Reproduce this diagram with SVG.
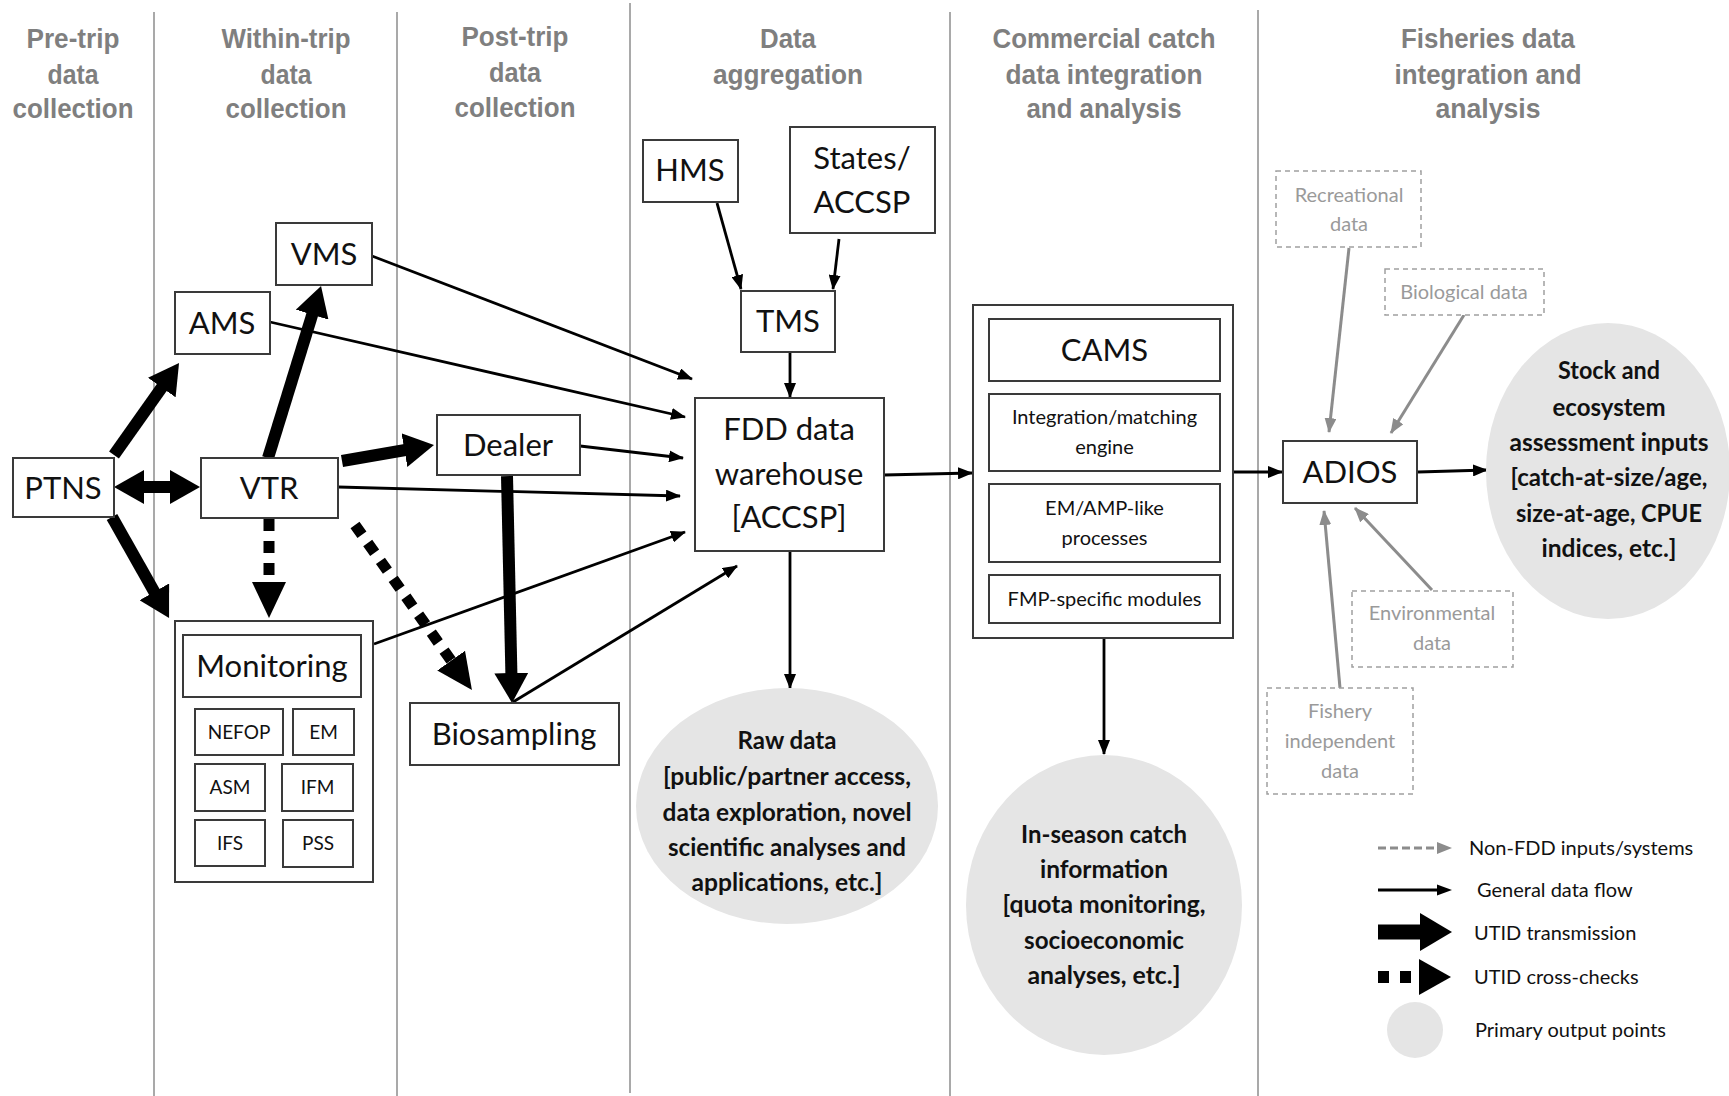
<svg xmlns="http://www.w3.org/2000/svg" width="1729" height="1096" viewBox="0 0 1729 1096">
<style>
.lane{stroke:#8c8c8c;stroke-width:1.5}
.hdr{font-family:"Liberation Sans",Arial,sans-serif;font-weight:bold;font-size:27px;fill:#7f7f7f;text-anchor:middle}
.box{fill:#fff;stroke:#3a3a3a;stroke-width:2}
.lbl{font-family:Lato,"Liberation Sans",sans-serif;font-size:31px;fill:#111;text-anchor:middle}
.sm{font-size:19px}
.mid{font-size:20px}
.gbox{fill:#fff;stroke:#a0a0a0;stroke-width:1.5;stroke-dasharray:5 4}
.glbl{fill:#9a9a9a;font-size:20px}
.out{fill:#e5e5e5}
.olbl{font-family:Lato,"Liberation Sans",sans-serif;font-weight:bold;font-size:25px;fill:#111;text-anchor:middle}
.leg{font-family:Lato,"Liberation Sans",sans-serif;font-size:20px;fill:#111}
.thin{stroke:#000;stroke-width:2.8;fill:none;marker-end:url(#ah)}
.gray{stroke:#8c8c8c;stroke-width:3;fill:none;marker-end:url(#gah)}
.thick{stroke:#000;stroke-width:12;fill:none;marker-end:url(#th)}
.dot{stroke:#000;stroke-width:11;fill:none;stroke-dasharray:12 10;marker-end:url(#dh)}
</style>
<defs>
<marker id="ah" markerUnits="userSpaceOnUse" markerWidth="15" markerHeight="12" refX="14" refY="6" orient="auto"><path d="M0,0 L15,6 L0,12 z" fill="#000"/></marker>
<marker id="gah" markerUnits="userSpaceOnUse" markerWidth="15" markerHeight="12" refX="14" refY="6" orient="auto"><path d="M0,0 L15,6 L0,12 z" fill="#8c8c8c"/></marker>
<marker id="th" markerUnits="userSpaceOnUse" markerWidth="30" markerHeight="34" refX="1" refY="17" orient="auto-start-reverse"><path d="M0,0 L30,17 L0,34 z" fill="#000"/></marker>
<marker id="dh" markerUnits="userSpaceOnUse" markerWidth="36" markerHeight="34" refX="1" refY="17" orient="auto"><path d="M0,0 L36,17 L0,34 z" fill="#000"/></marker>
</defs>
<rect width="1729" height="1096" fill="#fff"/>

<g id="lanes">
<line class="lane" x1="154" y1="12" x2="154" y2="1096"/>
<line class="lane" x1="397" y1="12" x2="397" y2="1096"/>
<line class="lane" x1="630" y1="3" x2="630" y2="1093"/>
<line class="lane" x1="950" y1="12" x2="950" y2="1096"/>
<line class="lane" x1="1258" y1="10" x2="1258" y2="1096"/>
</g>

<g id="headers">
<text class="hdr" x="73" y="48" textLength="93" lengthAdjust="spacingAndGlyphs">Pre-trip</text>
<text class="hdr" x="73" y="83.5" textLength="51" lengthAdjust="spacingAndGlyphs">data</text>
<text class="hdr" x="73" y="117.5" textLength="121" lengthAdjust="spacingAndGlyphs">collection</text>
<text class="hdr" x="286" y="48" textLength="129" lengthAdjust="spacingAndGlyphs">Within-trip</text>
<text class="hdr" x="286" y="83.5" textLength="51" lengthAdjust="spacingAndGlyphs">data</text>
<text class="hdr" x="286" y="117.5" textLength="121" lengthAdjust="spacingAndGlyphs">collection</text>
<text class="hdr" x="515" y="45.5" textLength="107" lengthAdjust="spacingAndGlyphs">Post-trip</text>
<text class="hdr" x="515" y="81.5" textLength="52" lengthAdjust="spacingAndGlyphs">data</text>
<text class="hdr" x="515" y="116.5" textLength="121" lengthAdjust="spacingAndGlyphs">collection</text>
<text class="hdr" x="788" y="48" textLength="56" lengthAdjust="spacingAndGlyphs">Data</text>
<text class="hdr" x="788" y="83.5" textLength="150" lengthAdjust="spacingAndGlyphs">aggregation</text>
<text class="hdr" x="1104" y="48" textLength="223" lengthAdjust="spacingAndGlyphs">Commercial catch</text>
<text class="hdr" x="1104" y="83.5" textLength="197" lengthAdjust="spacingAndGlyphs">data integration</text>
<text class="hdr" x="1104" y="117.5" textLength="155" lengthAdjust="spacingAndGlyphs">and analysis</text>
<text class="hdr" x="1488" y="48" textLength="174" lengthAdjust="spacingAndGlyphs">Fisheries data</text>
<text class="hdr" x="1488" y="83.5" textLength="187" lengthAdjust="spacingAndGlyphs">integration and</text>
<text class="hdr" x="1488" y="117.5" textLength="105" lengthAdjust="spacingAndGlyphs">analysis</text>
</g>

<g id="connectors">
<line class="thin" x1="372" y1="256" x2="692" y2="379"/>
<line class="thin" x1="270" y1="322" x2="685" y2="417"/>
<line class="thin" x1="580" y1="446" x2="683" y2="458"/>
<line class="thin" x1="338" y1="487" x2="680" y2="496"/>
<line class="thin" x1="374" y1="644" x2="685" y2="532"/>
<line class="thin" x1="513" y1="702" x2="737" y2="566"/>
<line class="thin" x1="717" y1="203" x2="741" y2="289"/>
<line class="thin" x1="839" y1="239" x2="833" y2="289"/>
<line class="thin" x1="790" y1="352" x2="790" y2="397"/>
<line class="thin" x1="884" y1="475" x2="972" y2="473"/>
<line class="thin" x1="790" y1="551" x2="790" y2="688"/>
<line class="thin" x1="1104" y1="639" x2="1104" y2="754"/>
<line class="thin" x1="1234" y1="472" x2="1282" y2="472"/>
<line class="thin" x1="1418" y1="472" x2="1487" y2="470"/>
<line class="gray" x1="1349" y1="248" x2="1329" y2="432"/>
<line class="gray" x1="1464" y1="315" x2="1391" y2="433"/>
<line class="gray" x1="1432" y1="590" x2="1355" y2="508"/>
<line class="gray" x1="1340" y1="688" x2="1324" y2="511"/>
<line class="thick" x1="114" y1="455" x2="162.3" y2="386.7"/>
<line class="thick" x1="143" y1="487" x2="171" y2="487" marker-start="url(#th)"/>
<line class="thick" x1="112" y1="517" x2="154.8" y2="592.7"/>
<line class="thick" x1="268" y1="458" x2="312.5" y2="313.7"/>
<line class="thick" x1="342" y1="461" x2="405.4" y2="450"/>
<line class="thick" x1="507" y1="476" x2="511.4" y2="674"/>
<line class="dot" x1="269" y1="519" x2="269" y2="583"/>
<line class="dot" x1="355" y1="525" x2="451.7" y2="661.4" stroke-dasharray="12 12"/>
</g>

<g id="PTNS"><rect class="box" x="13" y="458" width="101" height="59"/><text class="lbl" x="63" y="499">PTNS</text></g>
<g id="VTR"><rect class="box" x="201" y="458" width="137" height="60"/><text class="lbl" x="269" y="499">VTR</text></g>
<g id="AMS"><rect class="box" x="175" y="292" width="95" height="62"/><text class="lbl" x="222" y="334">AMS</text></g>
<g id="VMS"><rect class="box" x="276" y="223" width="96" height="62"/><text class="lbl" x="324" y="265">VMS</text></g>
<g id="Dealer"><rect class="box" x="437" y="415" width="143" height="60"/><text class="lbl" x="508" y="456">Dealer</text></g>
<g id="Monitoring">
<rect class="box" x="175" y="621" width="198" height="261"/>
<rect class="box" x="183" y="635" width="178" height="62"/><text class="lbl" x="272" y="677">Monitoring</text>
<rect class="box" x="195" y="709" width="88" height="46"/><text class="lbl sm" x="239" y="739">NEFOP</text>
<rect class="box" x="293" y="709" width="61" height="46"/><text class="lbl sm" x="323.5" y="739">EM</text>
<rect class="box" x="195" y="764" width="70" height="47"/><text class="lbl sm" x="230" y="794">ASM</text>
<rect class="box" x="282" y="764" width="71" height="47"/><text class="lbl sm" x="317.5" y="794">IFM</text>
<rect class="box" x="195" y="820" width="70" height="46"/><text class="lbl sm" x="230" y="850">IFS</text>
<rect class="box" x="283" y="820" width="70" height="47"/><text class="lbl sm" x="318" y="850">PSS</text>
</g>
<g id="Biosampling"><rect class="box" x="410" y="703" width="209" height="62"/><text class="lbl" x="514" y="745">Biosampling</text></g>
<g id="HMS"><rect class="box" x="643" y="140" width="95" height="62"/><text class="lbl" x="690" y="181">HMS</text></g>
<g id="States"><rect class="box" x="790" y="127" width="145" height="106"/><text class="lbl" x="862" y="169">States/</text><text class="lbl" x="862" y="213">ACCSP</text></g>
<g id="TMS"><rect class="box" x="741" y="291" width="94" height="61"/><text class="lbl" x="788" y="332">TMS</text></g>
<g id="FDD"><rect class="box" x="695" y="398" width="189" height="153"/><text class="lbl" x="789" y="440">FDD data</text><text class="lbl" x="789" y="485">warehouse</text><text class="lbl" x="789" y="528">[ACCSP]</text></g>
<g id="CAMS">
<rect class="box" x="973" y="305" width="260" height="333"/>
<rect class="box" x="989" y="319" width="231" height="62"/><text class="lbl" x="1104.5" y="361">CAMS</text>
<rect class="box" x="989" y="394" width="231" height="77"/><text class="lbl mid" x="1104.5" y="424">Integration/matching</text><text class="lbl mid" x="1104.5" y="454">engine</text>
<rect class="box" x="989" y="484" width="231" height="78"/><text class="lbl mid" x="1104.5" y="515">EM/AMP-like</text><text class="lbl mid" x="1104.5" y="545">processes</text>
<rect class="box" x="989" y="575" width="231" height="48"/><text class="lbl mid" x="1104.5" y="606">FMP-specific modules</text>
</g>
<g id="ADIOS"><rect class="box" x="1283" y="441" width="134" height="62"/><text class="lbl" x="1350" y="483">ADIOS</text></g>
<g id="Recreational"><rect class="gbox" x="1276" y="171" width="145" height="76"/><text class="lbl glbl" x="1349" y="202">Recreational</text><text class="lbl glbl" x="1349" y="231">data</text></g>
<g id="Biological"><rect class="gbox" x="1385" y="269" width="159" height="46"/><text class="lbl glbl" x="1464" y="299">Biological data</text></g>
<g id="Environmental"><rect class="gbox" x="1352" y="591" width="161" height="76"/><text class="lbl glbl" x="1432" y="620">Environmental</text><text class="lbl glbl" x="1432" y="650">data</text></g>
<g id="FisheryIndependent"><rect class="gbox" x="1267" y="688" width="146" height="106"/><text class="lbl glbl" x="1340" y="718">Fishery</text><text class="lbl glbl" x="1340" y="748">independent</text><text class="lbl glbl" x="1340" y="778">data</text></g>

<g id="RawData"><ellipse class="out" cx="787" cy="806" rx="151" ry="118"/>
<text class="olbl" x="787" y="749" textLength="99" lengthAdjust="spacingAndGlyphs">Raw data</text>
<text class="olbl" x="787" y="785" textLength="248" lengthAdjust="spacingAndGlyphs">[public/partner access,</text>
<text class="olbl" x="787" y="821" textLength="249" lengthAdjust="spacingAndGlyphs">data exploration, novel</text>
<text class="olbl" x="787" y="856" textLength="238" lengthAdjust="spacingAndGlyphs">scientific analyses and</text>
<text class="olbl" x="787" y="891" textLength="191" lengthAdjust="spacingAndGlyphs">applications, etc.]</text>
</g>
<g id="InSeason"><ellipse class="out" cx="1104" cy="905" rx="138" ry="150"/>
<text class="olbl" x="1104" y="843" textLength="166" lengthAdjust="spacingAndGlyphs">In-season catch</text>
<text class="olbl" x="1104" y="878" textLength="128" lengthAdjust="spacingAndGlyphs">information</text>
<text class="olbl" x="1104" y="913" textLength="203" lengthAdjust="spacingAndGlyphs">[quota monitoring,</text>
<text class="olbl" x="1104" y="949" textLength="160" lengthAdjust="spacingAndGlyphs">socioeconomic</text>
<text class="olbl" x="1104" y="984" textLength="153" lengthAdjust="spacingAndGlyphs">analyses, etc.]</text>
</g>
<g id="Stock"><ellipse class="out" cx="1608" cy="471" rx="122" ry="148"/>
<text class="olbl" x="1609" y="379" textLength="102" lengthAdjust="spacingAndGlyphs">Stock and</text>
<text class="olbl" x="1609" y="416" textLength="113" lengthAdjust="spacingAndGlyphs">ecosystem</text>
<text class="olbl" x="1609" y="451" textLength="199" lengthAdjust="spacingAndGlyphs">assessment inputs</text>
<text class="olbl" x="1609" y="486" textLength="197" lengthAdjust="spacingAndGlyphs">[catch-at-size/age,</text>
<text class="olbl" x="1609" y="522" textLength="186" lengthAdjust="spacingAndGlyphs">size-at-age, CPUE</text>
<text class="olbl" x="1609" y="557" textLength="135" lengthAdjust="spacingAndGlyphs">indices, etc.]</text>
</g>

<g id="legend">
<line x1="1378" y1="848" x2="1440" y2="848" stroke="#8c8c8c" stroke-width="3" stroke-dasharray="8 4"/>
<path d="M1437,842 L1452,848 L1437,854 z" fill="#8c8c8c"/>
<text class="leg" x="1469" y="855">Non-FDD inputs/systems</text>
<line x1="1378" y1="890" x2="1440" y2="890" stroke="#000" stroke-width="3"/>
<path d="M1437,884.5 L1452,890 L1437,895.5 z" fill="#000"/>
<text class="leg" x="1477" y="897">General data flow</text>
<line x1="1378" y1="932" x2="1421" y2="932" stroke="#000" stroke-width="15"/>
<path d="M1420,913 L1452,932 L1420,951 z" fill="#000"/>
<text class="leg" x="1474" y="940">UTID transmission</text>
<rect x="1378" y="971" width="11" height="12" fill="#000"/>
<rect x="1400" y="971" width="11" height="12" fill="#000"/>
<path d="M1419,959 L1451,977 L1419,995 z" fill="#000"/>
<text class="leg" x="1474" y="984">UTID cross-checks</text>
<circle class="out" cx="1415" cy="1030" r="28"/>
<text class="leg" x="1475" y="1037">Primary output points</text>
</g>
</svg>
